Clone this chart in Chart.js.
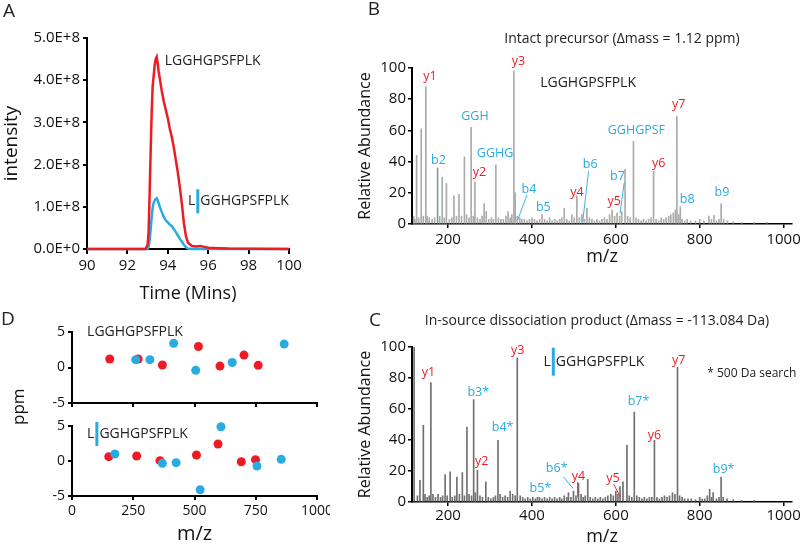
<!DOCTYPE html>
<html>
<head>
<meta charset="utf-8">
<script src="https://cdn.jsdelivr.net/npm/chart.js@4.4.1/dist/chart.umd.min.js"></script>
<style>
  body { margin: 0; background: #fff; }
  #wrap { position: relative; width: 800px; height: 546px; overflow: hidden; font-family: "Open Sans", sans-serif; color: #222; }
  canvas { position: absolute; }
  #ppm { position: absolute; left: 0; top: 396px; width: 36px; text-align: center; transform: rotate(-90deg); font-size: 17px; line-height: 22px; color: #111; }
</style>
</head>
<body>
<div id="wrap">
  <canvas id="chartA" width="330" height="310" style="left:0;top:0"></canvas>
  <canvas id="chartB" width="470" height="280" style="left:330px;top:0"></canvas>
  <canvas id="chartD1" width="330" height="100" style="left:0;top:310px"></canvas>
  <canvas id="chartD2" width="330" height="136" style="left:0;top:410px"></canvas>
  <canvas id="chartC" width="470" height="276" style="left:330px;top:280px"></canvas>
  <div id="ppm">ppm</div>
</div>
<script>
const RED = '#ec1c24';
const BLUE = '#29abe2';

// A: extracted ion chromatograms (intensity in units of 1E+8)
const timeA = [90, 92.9, 93.0, 93.05, 93.1, 93.15, 93.2, 93.25, 93.3, 93.35, 93.4, 93.45, 93.5, 93.55, 93.6, 93.7, 93.8, 93.9, 94.0, 94.1, 94.2, 94.3, 94.4, 94.5, 94.6, 94.7, 94.8, 94.9, 95.0, 95.2, 95.4, 95.6, 95.8, 96.0, 96.5, 97, 98, 100];
const intactA = [0, 0, 0.1, 0.4, 1.3, 2.3, 3.2, 3.85, 4.1, 4.35, 4.5, 4.55, 4.4, 4.2, 4.05, 3.75, 3.5, 3.3, 3.1, 2.85, 2.65, 2.4, 2.1, 1.8, 1.45, 1.05, 0.6, 0.3, 0.15, 0.07, 0.06, 0.07, 0.05, 0.03, 0.02, 0.01, 0.005, 0];
const productA = [0, 0, 0, 0.05, 0.2, 0.45, 0.75, 0.98, 1.1, 1.15, 1.18, 1.2, 1.15, 1.08, 1.0, 0.88, 0.76, 0.68, 0.63, 0.58, 0.54, 0.47, 0.4, 0.32, 0.24, 0.17, 0.1, 0.04, 0.01, 0, 0, 0, 0, 0, 0, 0, 0, 0];

// B: MS/MS spectrum of intact precursor
const mzB = [118, 121, 125, 130, 136, 141, 147, 150, 155, 162, 168, 175, 180, 186, 191, 196, 203, 209, 214, 220, 226, 232, 239, 244, 250, 255, 260, 264, 270, 276, 281, 286, 291, 297, 303, 308, 314, 320, 326, 332, 338, 343, 348, 352, 357, 360, 365, 371, 376, 382, 388, 394, 400, 406, 412, 418, 424, 430, 436, 442, 448, 454, 460, 466, 471, 477, 483, 489, 495, 501, 507, 513, 519, 525, 531, 537, 543, 549, 555, 561, 567, 573, 579, 585, 591, 597, 603, 609, 614, 622, 628, 634, 642, 648, 654, 660, 666, 672, 678, 684, 690, 696, 702, 708, 714, 720, 726, 731, 737, 742, 745.6, 750, 753.7, 758, 764, 770, 778, 790, 800, 810, 822, 828, 834, 840, 846, 851, 857, 866, 880, 900, 930, 960];
const abB = [5, 3, 44, 4, 61, 5, 88, 5, 4, 3, 4, 36, 5, 30, 4, 26, 3, 4, 18, 5, 19, 5, 43, 6, 4, 62, 5, 27, 4, 3, 5, 13, 8, 3, 4, 3, 38, 4, 3, 3, 5, 8, 4, 6, 98, 20, 5, 4, 3, 3, 2, 3, 4, 3, 2, 3, 6, 3, 2, 4, 2, 3, 2, 3, 4, 10, 3, 2, 6, 4, 18, 4, 6, 3, 10, 4, 3, 2, 3, 2, 3, 4, 3, 6, 9, 5, 7, 5, 8, 35, 5, 4, 53, 4, 3, 2, 3, 2, 3, 4, 34, 3, 2, 4, 3, 4, 5, 6, 7, 9, 69, 6, 11, 3, 2, 3, 2, 2, 3, 2, 5, 3, 5.5, 2, 3, 13, 3, 2, 1.5, 1, 1, 1];

// C: MS/MS spectrum of in-source dissociation product
const mzC = [119, 127, 133, 141, 145, 150, 155, 159, 164, 170, 176, 182, 187, 193, 198, 205, 210, 216, 221, 227, 234, 239, 245, 250, 256, 261, 265, 270, 276, 282, 290, 296, 302, 308, 313, 319, 324, 330, 336, 342, 348, 354, 360, 365, 372, 378, 384, 390, 396, 402, 408, 413, 418, 424, 430, 436, 442, 448, 454, 460, 466, 471, 477, 483, 487, 493, 499, 505, 511, 517, 522, 527, 533, 539, 545, 551, 557, 563, 569, 575, 581, 588, 594, 600, 605, 610, 617, 626.5, 632, 638, 644, 650, 656, 662, 668, 674, 680, 686, 692, 698, 704, 710, 716, 722, 728, 735, 741, 747, 752, 758, 764, 772, 780, 790, 800, 806, 812, 818, 823.6, 828, 832, 840, 846, 851, 856, 865, 880, 900, 930];
const abC = [100, 4, 14, 49.5, 5, 3, 4, 77, 5, 3, 5, 3, 4, 17.7, 4, 19.4, 3, 4, 16, 5, 19, 4, 48.4, 5, 4, 66, 6, 20.5, 4, 3, 13, 3, 2, 3, 4, 39.8, 5, 3, 4, 3, 7, 5, 4, 93, 4, 3, 2, 3, 2, 3, 2, 3, 3, 2, 3, 2, 3, 2, 3, 2, 3, 2, 4, 3, 6, 3, 7, 4, 12, 5, 3, 4, 14.6, 3, 2, 3, 2, 3, 2, 3, 4, 5, 4, 7, 5, 10, 13, 36.6, 4, 3, 58, 4, 3, 2, 3, 2, 3, 3, 39.8, 3, 2, 3, 4, 3, 4, 6, 5, 87, 4, 3, 2, 2, 2, 1.5, 3, 2, 2, 4, 8.2, 3, 6, 2, 3, 16, 3, 2, 1.5, 1, 1];

// D: mass error of matched fragments (ppm)
const intactY_mz = [154, 270, 369, 516, 604, 702, 760];
const intactY_ppm = [1.2, 1.2, 0.35, 2.95, 0.2, 1.75, 0.3];
const intactB_mz = [260, 318, 415, 505, 654, 866];
const intactB_ppm = [1.1, 1.1, 3.4, -0.4, 0.7, 3.3];
const productY_mz = [150, 264, 359, 508, 596, 691, 749];
const productY_ppm = [0.62, 0.71, 0.05, 0.86, 2.43, -0.1, 0.19];
const productB_mz = [175, 369, 425, 523, 608, 755, 854];
const productB_ppm = [1.0, -0.33, -0.24, -4.1, 4.9, -0.71, 0.24];

Chart.defaults.font.family = '"Open Sans", sans-serif';
Chart.defaults.color = '#222';

// text, leader lines and cleavage marks drawn on top of each chart
const notes = {
  id: 'notes',
  afterDatasetsDraw(chart, args, opts) {
    const ctx = chart.ctx;
    const xs = chart.scales.x, ys = chart.scales.y;
    (opts.items || []).forEach(it => {
      ctx.save();
      if (it.line) {
        ctx.strokeStyle = it.color;
        ctx.lineWidth = 0.9;
        ctx.beginPath();
        ctx.moveTo(xs.getPixelForValue(it.line[0]), ys.getPixelForValue(it.line[1]));
        ctx.lineTo(xs.getPixelForValue(it.line[2]), ys.getPixelForValue(it.line[3]));
        ctx.stroke();
        ctx.restore();
        return;
      }
      const px = it.px ? it.x : xs.getPixelForValue(it.x);
      const py = it.px ? it.y : ys.getPixelForValue(it.y);
      ctx.font = (it.size || 12.5) + 'px "Open Sans", sans-serif';
      ctx.fillStyle = it.color || '#222';
      ctx.textBaseline = 'middle';
      if (it.cut) {
        ctx.textAlign = 'left';
        ctx.fillText(it.cut[0], px, py);
        const w = ctx.measureText(it.cut[0]).width;
        ctx.fillStyle = BLUE;
        ctx.fillRect(px + w + 1, py - it.barH / 2, 3, it.barH);
        ctx.fillStyle = it.color || '#222';
        ctx.fillText(it.cut[1], px + w + 5, py);
      } else {
        ctx.textAlign = it.align || 'center';
        ctx.fillText(it.text, px, py);
      }
      ctx.restore();
    });
  }
};
Chart.register(notes);

function fixW(w) { return s => { s.width = w; s.paddingTop = 0; s.paddingBottom = 0; }; }
function fixH(h) { return s => { s.height = h; s.paddingLeft = 0; s.paddingRight = 0; }; }
const pts = (xs, ys) => xs.map((x, i) => ({ x: x, y: ys[i] }));
const plain = v => String(v);

// ---------- A ----------
new Chart(document.getElementById('chartA'), {
  type: 'line',
  data: {
    datasets: [
      { data: pts(timeA, intactA), borderColor: RED, borderWidth: 2.5, pointRadius: 0, clip: 5 },
      { data: pts(timeA, productA), borderColor: BLUE, borderWidth: 2.5, pointRadius: 0, clip: 5 }
    ]
  },
  options: {
    responsive: false, animation: false,
    layout: { padding: { top: 38, right: 41, left: 0, bottom: 0 } },
    plugins: {
      legend: { display: false }, tooltip: { enabled: false },
      notes: { items: [
        { px: true, x: 9, y: 12, text: 'A', size: 19 },
        { x: 93.85, y: 4.46, text: 'LGGHGPSFPLK', align: 'left', size: 14 },
        { x: 95.0, y: 1.13, cut: ['L', 'GGHGPSFPLK'], barH: 24, size: 14 }
      ] }
    },
    scales: {
      x: {
        type: 'linear', min: 90, max: 100,
        ticks: { stepSize: 2, font: { size: 15 }, padding: 3, color: '#111', callback: plain },
        grid: { drawOnChartArea: false, color: '#000', lineWidth: 2, tickLength: 5 },
        border: { color: '#000', width: 2 },
        title: { display: true, text: 'Time (Mins)', font: { size: 18 }, padding: { top: 0, bottom: 5 }, color: '#111' },
        afterFit: fixH(61)
      },
      y: {
        min: 0, max: 5,
        ticks: { stepSize: 1, font: { size: 15 }, padding: 3, color: '#111',
          callback: v => v === 0 ? '0.0E+0' : v.toFixed(1) + 'E+8' },
        grid: { drawOnChartArea: false, color: '#000', lineWidth: 2, tickLength: 4 },
        border: { color: '#000', width: 2 },
        title: { display: true, text: 'intensity', font: { size: 19 }, padding: { top: 0, bottom: 0 }, color: '#111' },
        afterFit: fixW(87)
      }
    }
  }
});

// spectrum panels B and C share one layout
function spectrum(id, mz, ab, barColor, padTop, padBottom, xHeight, tickPad, items) {
  return new Chart(document.getElementById(id), {
    type: 'bar',
    data: { datasets: [{ data: pts(mz, ab), backgroundColor: barColor, barThickness: 1 }] },
    options: {
      responsive: false, animation: false,
      layout: { padding: { top: padTop, right: 8, left: 0, bottom: 0 } },
      plugins: { legend: { display: false }, tooltip: { enabled: false }, notes: { items: items } },
      scales: {
        x: {
          type: 'linear', min: 114, max: 1020, offset: false,
          ticks: { stepSize: 200, includeBounds: false, font: { size: 15 }, padding: tickPad, color: '#111', callback: plain },
          grid: { offset: false, drawOnChartArea: false, color: '#000', lineWidth: 1.5, tickLength: 4 },
          border: { color: '#000', width: 1.5 },
          title: { display: true, text: 'm/z', font: { size: 18 }, padding: { top: 0, bottom: padBottom }, color: '#111' },
          afterFit: fixH(xHeight)
        },
        y: {
          min: 0, max: 100,
          ticks: { stepSize: 20, font: { size: 15 }, padding: 2, color: '#111' },
          grid: { drawOnChartArea: false, color: '#000', lineWidth: 1.5, tickLength: 4 },
          border: { display: true, color: '#000', width: 2 },
          title: { display: true, text: 'Relative Abundance', font: { size: 16 }, padding: { top: 26, bottom: 0 }, color: '#111' },
          afterFit: fixW(82)
        }
      }
    }
  });
}

spectrum('chartB', mzB, abB, '#ababab', 68, 12, 56, 3, [
  { px: true, x: 44, y: 10, text: 'B', size: 19 },
  { px: true, x: 292, y: 39, text: 'Intact precursor (\u0394mass = 1.12 ppm)', size: 14 },
  { x: 419.6, y: 90.6, text: 'LGGHGPSFPLK', align: 'left', size: 14 },
  { x: 157, y: 94.9, text: 'y1', color: RED },
  { x: 368, y: 104, text: 'y3', color: RED },
  { x: 264, y: 68.8, text: 'GGH', color: BLUE },
  { x: 312, y: 45, text: 'GGHG', color: BLUE },
  { x: 177, y: 41, text: 'b2', color: BLUE },
  { x: 275, y: 32.9, text: 'y2', color: RED },
  { x: 393, y: 22.4, text: 'b4', color: BLUE },
  { x: 427, y: 10.4, text: 'b5', color: BLUE },
  { x: 539, y: 38.3, text: 'b6', color: BLUE },
  { x: 507, y: 20, text: 'y4', color: RED },
  { x: 596, y: 14.5, text: 'y5', color: RED },
  { x: 604, y: 30.3, text: 'b7', color: BLUE },
  { x: 649, y: 59.8, text: 'GGHGPSF', color: BLUE },
  { x: 750, y: 76.7, text: 'y7', color: RED },
  { x: 702, y: 38.9, text: 'y6', color: RED },
  { x: 770, y: 16, text: 'b8', color: BLUE },
  { x: 853, y: 20, text: 'b9', color: BLUE },
  { line: [175, 35.7, 175, 0.5], color: BLUE },
  { line: [388, 18.6, 366, 2.6], color: BLUE },
  { line: [535, 34, 521, 1.5], color: BLUE },
  { line: [620, 26.5, 610, 6.8], color: BLUE }
]);

spectrum('chartC', mzC, abC, '#707070', 67, 8, 54, 1, [
  { px: true, x: 45, y: 41, text: 'C', size: 19 },
  { px: true, x: 267, y: 41, text: 'In-source dissociation product (\u0394mass = -113.084 Da)', size: 14 },
  { x: 427.5, y: 90.5, cut: ['L', 'GGHGPSFPLK'], barH: 28, size: 14 },
  { x: 818, y: 83, text: '* 500 Da search', size: 12, align: 'left' },
  { x: 153, y: 83.7, text: 'y1', color: RED },
  { x: 366, y: 98, text: 'y3', color: RED },
  { x: 750, y: 91.6, text: 'y7', color: RED },
  { x: 272, y: 70.8, text: 'b3*', color: BLUE },
  { x: 330, y: 48.2, text: 'b4*', color: BLUE },
  { x: 654, y: 64.7, text: 'b7*', color: BLUE },
  { x: 692, y: 43.2, text: 'y6', color: RED },
  { x: 280, y: 26, text: 'y2', color: RED },
  { x: 459, y: 21.7, text: 'b6*', color: BLUE },
  { x: 511, y: 16.3, text: 'y4', color: RED },
  { x: 420, y: 8.8, text: 'b5*', color: BLUE },
  { x: 593, y: 15.3, text: 'y5', color: RED },
  { x: 857, y: 21, text: 'b9*', color: BLUE },
  { line: [475, 16.3, 497.6, 8.8], color: BLUE },
  { line: [509, 13, 509, 3.4], color: RED },
  { line: [594.6, 11.6, 610.5, 3.4], color: RED }
]);

// D: two stacked ppm plots
function ppmChart(id, yMz, yPpm, bMz, bPpm, top, xHeight, showX, items) {
  return new Chart(document.getElementById(id), {
    type: 'scatter',
    data: {
      datasets: [
        { data: pts(bMz, bPpm), backgroundColor: BLUE, pointRadius: 4.5, pointBorderWidth: 0, clip: false },
        { data: pts(yMz, yPpm), backgroundColor: RED, pointRadius: 4.5, pointBorderWidth: 0, clip: false }
      ]
    },
    options: {
      responsive: false, animation: false,
      layout: { padding: { top: top, right: 13, left: 0, bottom: 0 } },
      plugins: { legend: { display: false }, tooltip: { enabled: false }, notes: { items: items } },
      scales: {
        x: {
          type: 'linear', min: 0, max: 1000,
          ticks: { stepSize: 250, display: showX, font: { size: 14 }, padding: 3, color: '#111', callback: plain },
          grid: { drawOnChartArea: false, color: '#000', lineWidth: 2, tickLength: 4 },
          border: { color: '#000', width: 2 },
          title: { display: showX, text: 'm/z', font: { size: 20 }, padding: { top: 0, bottom: 0 }, color: '#111' },
          afterFit: fixH(xHeight)
        },
        y: {
          min: -5, max: 5,
          ticks: { stepSize: 5, font: { size: 14 }, padding: 3, color: '#111' },
          grid: { drawOnChartArea: false, color: '#000', lineWidth: 2, tickLength: 4 },
          border: { color: '#000', width: 2 },
          afterFit: fixW(72)
        }
      }
    }
  });
}

ppmChart('chartD1', intactY_mz, intactY_ppm, intactB_mz, intactB_ppm, 22, 7, false, [
  { px: true, x: 8, y: 10, text: 'D', size: 19 },
  { x: 61.5, y: 5, text: 'LGGHGPSFPLK', align: 'left', size: 14 }
]);
ppmChart('chartD2', productY_mz, productY_ppm, productB_mz, productB_ppm, 16, 50, true, [
  { x: 61.5, y: 3.86, cut: ['L', 'GGHGPSFPLK'], barH: 24, size: 14 }
]);
</script>
</body>
</html>
